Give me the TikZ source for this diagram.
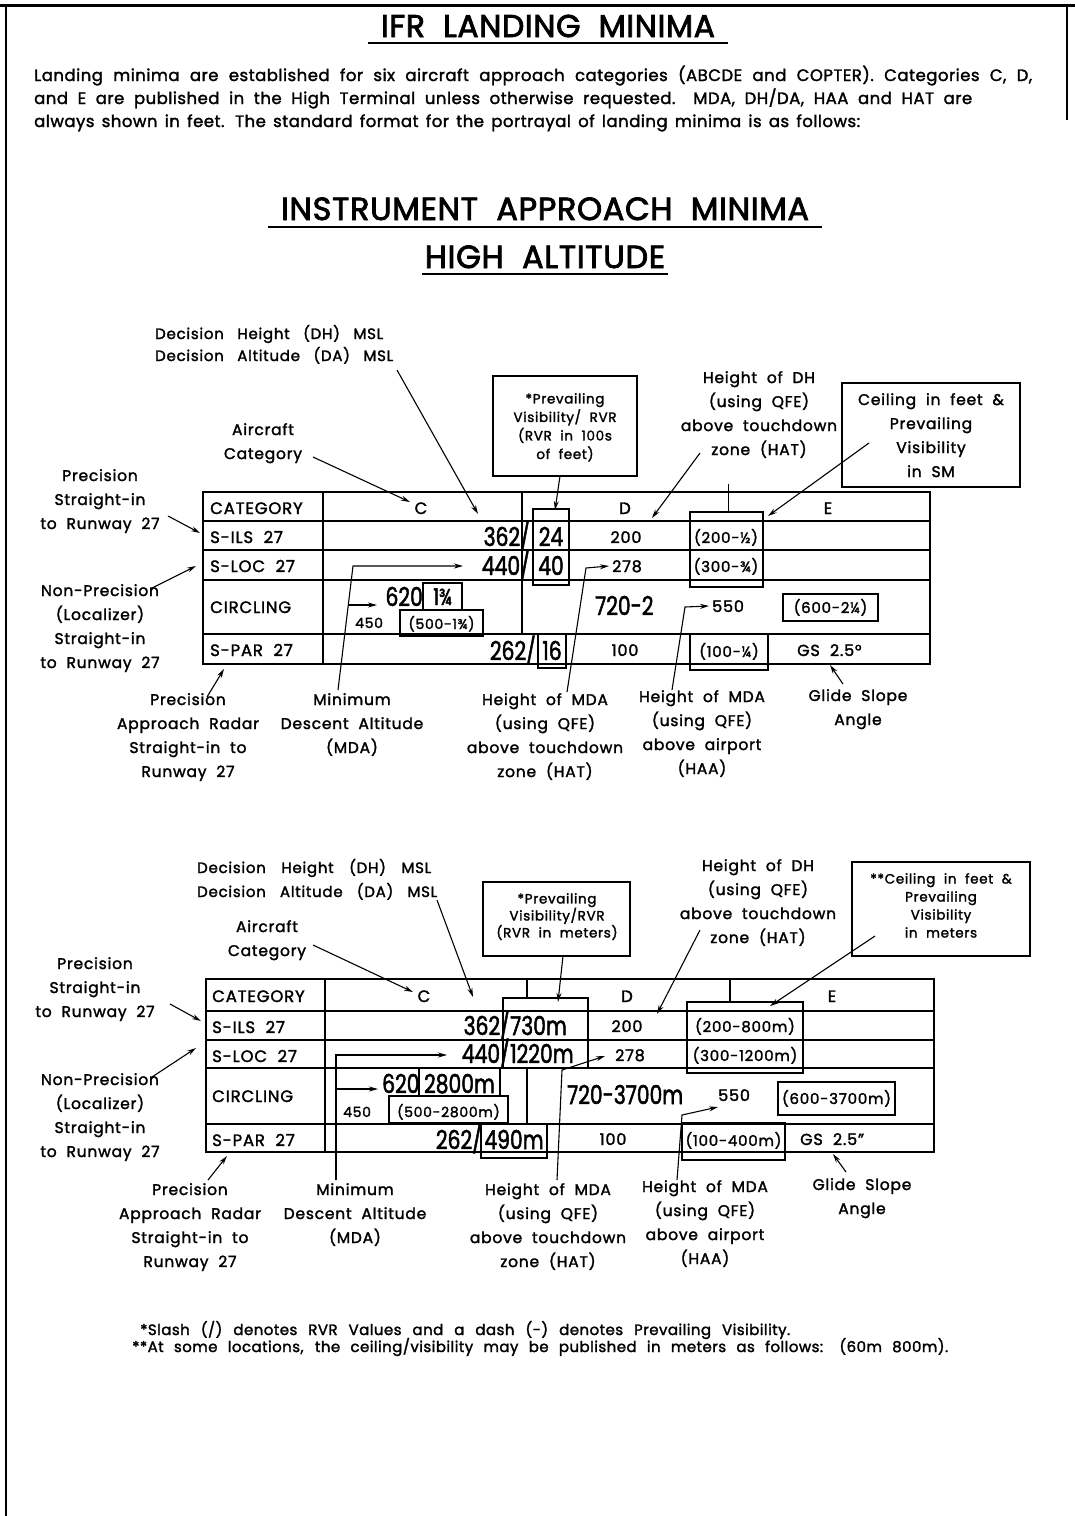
\documentclass[tikz,border=0pt]{standalone}
\usepackage{fontspec}
\setmainfont{Poppins}[LetterSpace=5,WordSpace=2,FakeBold=1.8]
\newfontfamily\parafont{Poppins}[LetterSpace=3,WordSpace=1.3,FakeBold=1.8]
\newfontfamily\headfont{Poppins}[LetterSpace=2,WordSpace=2,FakeBold=2.5]
\newfontfamily\numfont{Poppins}[FakeStretch=0.78,FakeBold=1.8]
\usetikzlibrary{arrows.meta}
\begin{document}
\begin{tikzpicture}[x=1pt,y=-1pt,
  lab/.style={align=center,inner sep=0pt,anchor=north,font=\fontsize{15.5}{24}\selectfont},
  labs/.style={align=center,inner sep=0pt,anchor=north,font=\fontsize{13.5}{18.5}\selectfont},
  cell/.style={inner sep=0pt,font=\fontsize{16.5}{18}\selectfont},
  mid/.style={inner sep=0pt,font=\fontsize{16}{18}\selectfont},
  mids/.style={inner sep=0pt,font=\fontsize{15}{18}\selectfont},
  small/.style={inner sep=0pt,font=\fontsize{14}{16}\selectfont},
  big/.style={inner sep=0pt,font=\numfont\fontsize{26}{30}\selectfont},
  bigs/.style={inner sep=0pt,font=\numfont\fontsize{23}{26}\selectfont},
  tl/.style={line width=1.8pt},
  bx/.style={draw,line width=1.5pt},
  arr/.style={line width=1.1pt,-{Stealth[length=9pt,width=5pt]}},
  head/.style={inner sep=0pt,anchor=base},
  para/.style={inner sep=0pt,anchor=base west,font=\parafont\fontsize{16.5}{23}\selectfont}
]
\useasboundingbox (0,0) rectangle (1075,1516);
\fill[white] (0,0) rectangle (1075,1516);
% frame
\draw[line width=3pt] (0,5) -- (1075,5);
\draw[line width=2.5pt] (6,5) -- (6,1516);
\draw[line width=2pt] (1067,5) -- (1067,120);

% titles
\node[head,font=\headfont\fontsize{31.5}{36}\selectfont] (title) at (548,37) {IFR LANDING MINIMA};
\draw[line width=2.5pt] (368,43) -- (728,43);
\node[para] (p1) at (34,81)
  {\makebox[998pt][s]{Landing minima are established for six aircraft approach categories (ABCDE and COPTER). Categories C, D,}};
\node[para] (p2) at (34,104)
  {\makebox[938pt][s]{and E are published in the High Terminal unless otherwise requested. MDA, DH/DA, HAA and HAT are}};
\node[para] (p3) at (34,127)
  {\makebox[826pt][s]{always shown in feet. The standard format for the portrayal of landing minima is as follows:}};
\node[head,font=\headfont\fontsize{32}{36}\selectfont] (h1) at (545,220) {INSTRUMENT APPROACH MINIMA};
\draw[line width=2.5pt] (268,227) -- (822,227);
\node[head,font=\headfont\fontsize{32}{36}\selectfont] (h2) at (545,268) {HIGH ALTITUDE};
\draw[line width=2.5pt] (422,274) -- (668,274);

%================ UPPER TABLE
\draw[tl] (203,492) rectangle (930,664);
\foreach \yy in {521,550,580,634} \draw[tl] (203,\yy) -- (930,\yy);
\draw[tl] (323,492) -- (323,664);
\draw[tl] (522,492) -- (522,634);
\draw[bx] (533,509) rectangle (569,585);
\draw[bx] (690,512) rectangle (763,587);
\draw[line width=0.8pt] (728,484) -- (728,512);
\draw[bx] (423,583) rectangle (462,610);
\draw[bx] (400,610) rectangle (483,636);
\draw[bx] (783,594) rectangle (878,621);
\draw[bx] (538,634) rectangle (566,668);
\draw[bx] (690,634) rectangle (768,670);

\node[cell,anchor=base west] (ucat) at (210,514) {CATEGORY};
\node[cell,anchor=base] (uc) at (421,514) {C};
\node[cell,anchor=base] (ud) at (625,514) {D};
\node[cell,anchor=base] (ue) at (828,514) {E};
\node[cell,anchor=base west] (uils) at (210,543) {S-ILS 27};
\node[big,anchor=base east] (u362) at (530,546) {362/};
\node[big,anchor=base] (u24) at (551,546) {24};
\node[mid,anchor=base] (u200) at (626,543) {200};
\node[mids,anchor=base] (u200h) at (726,543) {(200-½)};
\node[cell,anchor=base west] (uloc) at (210,572) {S-LOC 27};
\node[big,anchor=base east] (u440) at (530,575) {440/};
\node[big,anchor=base] (u40) at (551,575) {40};
\node[mid,anchor=base west] (u278) at (612,572) {278};
\node[mids,anchor=base] (u300) at (726,572) {(300-¾)};
\node[cell,anchor=base west] (ucirc) at (210,613) {CIRCLING};
\node[big,anchor=base east] (u620) at (423,606) {620};
\node[bigs,anchor=base] (u134) at (442.5,605) {1¾};
\node[small,anchor=base west] (u450) at (355,628) {450};
\node[small,anchor=base] (u500) at (441.5,629) {(500-1¾)};
\node[big,anchor=base west] (u720) at (595,615) {720-2};
\node[mid,anchor=base west] (u550) at (712,612) {550};
\node[mids,anchor=base] (u600) at (830.5,613) {(600-2¼)};
\node[cell,anchor=base west] (upar) at (210,656) {S-PAR 27};
\node[big,anchor=base east] (u262) at (536,660) {262/};
\node[big,anchor=base] (u16) at (552,660) {16};
\node[mid,anchor=base] (u100) at (625,656) {100};
\node[mids,anchor=base] (u100q) at (729,657) {(100-¼)};
\node[mid,anchor=base west] (ugs) at (797,656) {GS 2.5°};

% upper labels
\node[inner sep=0pt,anchor=base west,font=\fontsize{15}{22}\selectfont] (udh) at (155,339) {\makebox[228pt][s]{Decision Height (DH) MSL}};
\node[inner sep=0pt,anchor=base west,font=\fontsize{15}{22}\selectfont] (uda) at (155,361) {\makebox[238pt][s]{Decision Altitude (DA) MSL}};
\node[lab] (uac) at (263,423) {Aircraft\\Category};
\draw[bx] (493,376) rectangle (637,476);
\node[labs] (upv) at (565,393) {*Prevailing\\Visibility/ RVR\\(RVR in 100s\\of feet)};
\node[lab] (uhdh) at (759,371) {Height of DH\\(using QFE)\\above touchdown\\zone (HAT)};
\draw[bx] (842,383) rectangle (1020,487);
\node[lab] (ucl) at (931,393) {Ceiling in feet \&\\Prevailing\\Visibility\\in SM};
\node[lab] (ups) at (100,469) {Precision\\Straight-in\\to Runway 27};
\node[lab] (unp) at (100,584) {Non-Precision\\(Localizer)\\Straight-in\\to Runway 27};
\node[lab] (upar2) at (188,693) {Precision\\Approach Radar\\Straight-in to\\Runway 27};
\node[lab] (umda) at (352,693) {Minimum\\Descent Altitude\\(MDA)};
\node[lab] (uhm) at (545,693) {Height of MDA\\(using QFE)\\above touchdown\\zone (HAT)};
\node[lab] (uha) at (702,690) {Height of MDA\\(using QFE)\\above airport\\(HAA)};
\node[lab] (ugsl) at (858,689) {Glide Slope\\Angle};

% upper connectors
\coordinate (a1s) at (397,370); \coordinate (a1e) at (478,514);
\draw[arr] (a1s) -- (a1e);
\coordinate (a2s) at (313,457); \coordinate (a2e) at (410,502);
\draw[arr] (a2s) -- (a2e);
\coordinate (a3s) at (560,476); \coordinate (a3e) at (555,510);
\draw[arr] (a3s) -- (a3e);
\coordinate (a4s) at (700,453); \coordinate (a4e) at (652,518);
\draw[arr] (a4s) -- (a4e);
\coordinate (a5s) at (869,443); \coordinate (a5e) at (768,516);
\draw[arr] (a5s) -- (a5e);
\coordinate (a6s) at (168,516); \coordinate (a6e) at (200,533);
\draw[arr] (a6s) -- (a6e);
\coordinate (a7s) at (152,588); \coordinate (a7e) at (196,566);
\draw[arr] (a7s) -- (a7e);
\coordinate (a8s) at (207,697); \coordinate (a8e) at (224,669);
\draw[arr] (a8s) -- (a8e);
\coordinate (a9s) at (338,690); \coordinate (a9m) at (353,566); \coordinate (a9e) at (463,566);
\draw[arr] (a9s) -- (a9m) -- (a9e);
\coordinate (a10s) at (349,605); \coordinate (a10e) at (377,605);
\draw[arr] (a10s) -- (a10e);
\coordinate (a11s) at (567,692); \coordinate (a11m) at (586,568); \coordinate (a11e) at (609,566);
\draw[arr] (a11s) -- (a11m) -- (a11e);
\coordinate (a12s) at (672,690); \coordinate (a12m) at (685,607); \coordinate (a12e) at (709,606);
\draw[arr] (a12s) -- (a12m) -- (a12e);
\coordinate (a13s) at (843,684); \coordinate (a13e) at (830,665);
\draw[arr] (a13s) -- (a13e);

%================ LOWER TABLE
\draw[tl] (206,979) rectangle (934,1152);
\foreach \yy in {1011,1040,1068,1124} \draw[tl] (206,\yy) -- (934,\yy);
\draw[tl] (325,979) -- (325,1152);
\draw[tl] (527,979) -- (527,998);
\draw[tl] (527,1068) -- (527,1124);
\draw[tl] (730,979) -- (730,1002);
\draw[bx] (503,998) rectangle (588,1068);
\draw[bx] (687,1002) rectangle (803,1073);
\draw[bx] (419,1068) rectangle (500,1096);
\draw[bx] (389,1096) rectangle (508,1123);
\draw[bx] (778,1082) rectangle (895,1115);
\draw[bx] (481,1124) rectangle (547,1158);
\draw[bx] (682,1123) rectangle (785,1160);

\node[cell,anchor=base west] (lcat) at (212,1002) {CATEGORY};
\node[cell,anchor=base] (lc) at (424,1002) {C};
\node[cell,anchor=base] (ld) at (627,1002) {D};
\node[cell,anchor=base] (le) at (832,1002) {E};
\node[cell,anchor=base west] (lils) at (212,1033) {S-ILS 27};
\node[big,anchor=base east] (l362) at (510,1035) {362/};
\node[big,anchor=base west] (l730) at (510,1035) {730m};
\node[mid,anchor=base] (l200) at (627,1032) {200};
\node[mids,anchor=base] (l200h) at (745,1032) {(200-800m)};
\node[cell,anchor=base west] (lloc) at (212,1062) {S-LOC 27};
\node[big,anchor=base east] (l440) at (510,1063) {440/};
\node[big,anchor=base west] (l1220) at (510,1063) {1220m};
\node[mid,anchor=base] (l278) at (630,1061) {278};
\node[mids,anchor=base] (l300) at (745,1061) {(300-1200m)};
\node[cell,anchor=base west] (lcirc) at (212,1102) {CIRCLING};
\node[big,anchor=base west] (l620) at (382,1093) {620};
\node[big,anchor=base] (l2800) at (459.5,1093) {2800m};
\node[small,anchor=base west] (l450) at (343,1117) {450};
\node[small,anchor=base] (l500) at (448.5,1117) {(500-2800m)};
\node[big,anchor=base west] (l720) at (567,1104) {720-3700m};
\node[mid,anchor=base west] (l550) at (718,1101) {550};
\node[mids,anchor=base] (l600) at (836.5,1104) {(600-3700m)};
\node[cell,anchor=base west] (lpar) at (212,1146) {S-PAR 27};
\node[big,anchor=base east] (l262) at (482,1149) {262/};
\node[big,anchor=base] (l490) at (514,1149) {490m};
\node[mid,anchor=base] (l100) at (613,1145) {100};
\node[mids,anchor=base] (l100q) at (733.5,1146) {(100-400m)};
\node[mid,anchor=base west] (lgs) at (800,1145) {GS 2.5"};

% lower labels
\node[inner sep=0pt,anchor=base west,font=\fontsize{15}{22}\selectfont] (ldh) at (197,873) {\makebox[234pt][s]{Decision Height (DH) MSL}};
\node[inner sep=0pt,anchor=base west,font=\fontsize{15}{22}\selectfont] (lda) at (197,897) {\makebox[240pt][s]{Decision Altitude (DA) MSL}};
\node[lab] (lac) at (267,920) {Aircraft\\Category};
\draw[bx] (483,882) rectangle (630,956);
\node[labs,font=\fontsize{13.5}{17}\selectfont] (lpv) at (557,893) {*Prevailing\\Visibility/RVR\\(RVR in meters)};
\node[lab] (lhdh) at (758,859) {Height of DH\\(using QFE)\\above touchdown\\zone (HAT)};
\draw[bx] (852,862) rectangle (1030,956);
\node[labs,font=\fontsize{13.5}{18}\selectfont] (lcl) at (941,873) {**Ceiling in feet \&\\Prevailing\\Visibility\\in meters};
\node[lab] (lps) at (95,957) {Precision\\Straight-in\\to Runway 27};
\node[lab] (lnp) at (100,1073) {Non-Precision\\(Localizer)\\Straight-in\\to Runway 27};
\node[lab] (lpar2) at (190,1183) {Precision\\Approach Radar\\Straight-in to\\Runway 27};
\node[lab] (lmda) at (355,1183) {Minimum\\Descent Altitude\\(MDA)};
\node[lab] (lhm) at (548,1183) {Height of MDA\\(using QFE)\\above touchdown\\zone (HAT)};
\node[lab] (lha) at (705,1180) {Height of MDA\\(using QFE)\\above airport\\(HAA)};
\node[lab] (lgsl) at (862,1178) {Glide Slope\\Angle};

% lower connectors
\coordinate (b1s) at (437,900); \coordinate (b1e) at (473,997);
\draw[arr] (b1s) -- (b1e);
\coordinate (b2s) at (313,945); \coordinate (b2e) at (413,992);
\draw[arr] (b2s) -- (b2e);
\coordinate (b3s) at (563,956); \coordinate (b3e) at (558,1002);
\draw[arr] (b3s) -- (b3e);
\coordinate (b4s) at (700,930); \coordinate (b4e) at (657,1014);
\draw[arr] (b4s) -- (b4e);
\coordinate (b5s) at (875,936); \coordinate (b5e) at (770,1006);
\draw[arr] (b5s) -- (b5e);
\coordinate (b6s) at (170,1004); \coordinate (b6e) at (201,1021);
\draw[arr] (b6s) -- (b6e);
\coordinate (b7s) at (152,1077); \coordinate (b7e) at (196,1048);
\draw[arr] (b7s) -- (b7e);
\coordinate (b8s) at (208,1180); \coordinate (b8e) at (227,1156);
\draw[arr] (b8s) -- (b8e);
\coordinate (b9s) at (336,1180); \coordinate (b9m) at (336,1055); \coordinate (b9e) at (447,1055);
\draw[arr] (b9s) -- (b9m) -- (b9e);
\coordinate (b10s) at (337,1089); \coordinate (b10e) at (378,1089);
\draw[arr] (b10s) -- (b10e);
\coordinate (b11s) at (557,1180); \coordinate (b11m) at (562,1070); \coordinate (b11e) at (605,1056);
\draw[arr] (b11s) -- (b11m) -- (b11e);
\coordinate (b12s) at (677,1180); \coordinate (b12m) at (682,1115); \coordinate (b12e) at (718,1107);
\draw[arr] (b12s) -- (b12m) -- (b12e);
\coordinate (b13s) at (846,1172); \coordinate (b13e) at (833,1154);
\draw[arr] (b13s) -- (b13e);

% footnotes
\node[para,font=\parafont\fontsize{15}{16}\selectfont] (fn1) at (140,1335)
  {\makebox[650pt][s]{*Slash (/) denotes RVR Values and a dash (-) denotes Prevailing Visibility.}};
\node[para,font=\parafont\fontsize{15}{16}\selectfont] (fn2) at (132,1352)
  {\makebox[816pt][s]{**At some locations, the ceiling/visibility may be published in meters as follows: (60m 800m).}};
\end{tikzpicture}
\end{document}
